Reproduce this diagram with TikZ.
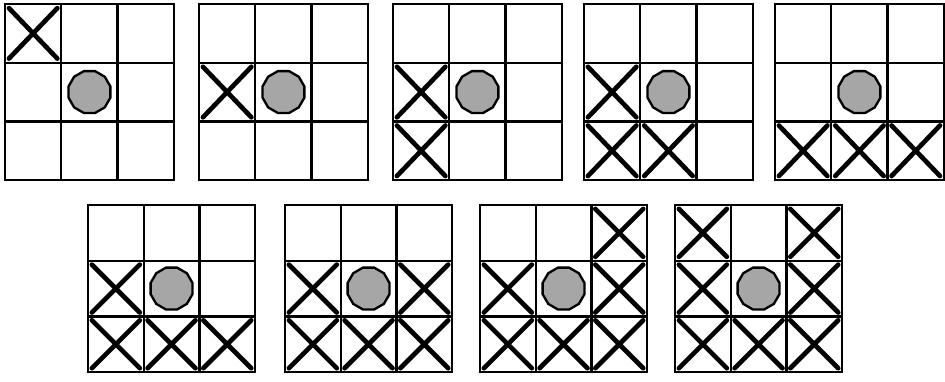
\documentclass[tikz,border=0pt]{standalone}
\usetikzlibrary{shapes.geometric}

% one board: #1 name, #2 left, #3 top, #4 cell width, #5 cell height, #6 crossed cells col/row
\newcommand{\board}[6]{%
  \begin{scope}[shift={(#2,#3)}, xscale=#4, yscale=#5]
    \draw[gridline] (0,0) rectangle (3,3);
    \foreach \k in {1,2} {
      \draw[gridline] (\k,0) -- (\k,3);
      \draw[gridline] (0,\k) -- (3,\k);
    }
    \foreach \c/\r in {#6} {
      \draw[crossline] (\c+0.07,\r+0.07) -- (\c+0.93,\r+0.93)
                       (\c+0.93,\r+0.07) -- (\c+0.07,\r+0.93);
    }
    \node[coin] (#1) at (1.5,1.5) {};
  \end{scope}}

\begin{document}
\begin{tikzpicture}[
    x=0.03cm, y=-0.03cm,
    gridline/.style={line width=2pt, line cap=square},
    crossline/.style={line width=4pt, line cap=round},
    coin/.style={regular polygon, regular polygon sides=12, draw,
      line width=2pt, fill=gray!70, minimum size=1.3cm, inner sep=0pt}
  ]
  \useasboundingbox (0,0) rectangle (945,381);

  % ---- top row ----
  \board{coinA}{5}{4}{56.3}{58.7}{0/0}
  \board{coinB}{199}{4}{56.3}{58.7}{0/1}
  \board{coinC}{393}{4}{56.3}{58.7}{0/1, 0/2}
  \board{coinD}{584}{4}{56.3}{58.7}{0/1, 0/2, 1/2}
  \board{coinE}{775}{4}{56.3}{58.7}{0/2, 1/2, 2/2}

  % ---- bottom row ----
  \board{coinF}{88}{205}{55.7}{55.7}{0/1, 0/2, 1/2, 2/2}
  \board{coinG}{285}{205}{55.7}{55.7}{0/1, 2/1, 0/2, 1/2, 2/2}
  \board{coinH}{480}{205}{55.7}{55.7}{2/0, 0/1, 2/1, 0/2, 1/2, 2/2}
  \board{coinI}{675}{205}{55.7}{55.7}{0/0, 2/0, 0/1, 2/1, 0/2, 1/2, 2/2}
\end{tikzpicture}
\end{document}
